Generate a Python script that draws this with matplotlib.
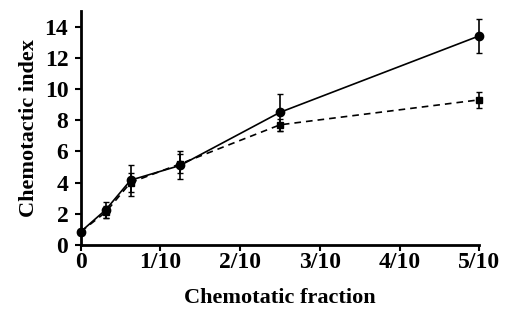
import matplotlib
matplotlib.use("Agg")
import matplotlib.pyplot as plt
import numpy as np

# chemotactic fraction
frac = [0, 1/32, 1/16, 1/8, 1/4, 1/2]
# solid line, circles
ci_a = [0.85, 2.25, 4.15, 5.1, 8.5, 13.4]
err_a = [0.1, 0.5, 1.0, 0.9, 1.2, 1.1]
# dashed line, squares
ci_b = [0.85, 2.1, 4.0, 5.2, 7.7, 9.3]
err_b = [0.1, 0.4, 0.6, 0.6, 0.4, 0.5]

xtick_pos = [0, 0.1, 0.2, 0.3, 0.4, 0.5]
xtick_lab = ["0", "1/10", "2/10", "3/10", "4/10", "5/10"]

plt.rcParams['font.family'] = ['Liberation Serif', 'DejaVu Serif']
plt.rcParams['font.weight'] = 'bold'

fig = plt.figure(figsize=(5.05, 3.12), dpi=100)
ax = fig.add_axes([0.160, 0.215, 0.789, 0.75])

ax.errorbar(frac, ci_b, yerr=err_b, fmt='s--', color='black', ms=5, lw=1.2,
            capsize=2.5, elinewidth=1.2, clip_on=False, dashes=(4, 3))
ax.errorbar(frac, ci_a, yerr=err_a, fmt='o-', color='black', ms=6, lw=1.2,
            capsize=2.5, elinewidth=1.2, clip_on=False)

ax.set_xlim(0, 0.5)
ax.set_ylim(0, 15)
ax.set_yticks(np.arange(0, 15, 2))
ax.set_xticks(xtick_pos)
ax.set_xticklabels(xtick_lab)
ax.tick_params(labelsize=17, width=1.5, length=4, direction='out')
ax.tick_params(axis='y', pad=5)
ax.tick_params(axis='x', pad=1)
for s in ['top', 'right']:
    ax.spines[s].set_visible(False)
for s in ['left', 'bottom']:
    ax.spines[s].set_linewidth(2)

ax.set_ylabel("Chemotactic index", fontsize=16, fontweight='bold', labelpad=4)
ax.set_xlabel("Chemotatic fraction", fontsize=16, fontweight='bold', labelpad=11)

fig.savefig("out.png", dpi=100)
